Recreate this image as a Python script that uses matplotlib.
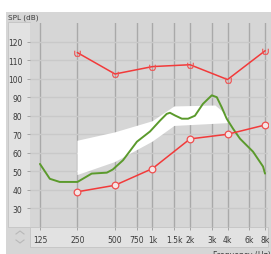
import numpy as np
import matplotlib
matplotlib.use("Agg")
import matplotlib.pyplot as plt
from matplotlib.patches import Rectangle
from matplotlib.path import Path
from matplotlib.lines import Line2D

# data
x_ticks = [125, 250, 500, 750, 1000, 1500, 2000, 3000, 4000, 6000, 8000]
x_labels = ["125", "250", "500", "750", "1k", "1.5k", "2k", "3k", "4k", "6k", "8k"]
y_ticks = [30, 40, 50, 60, 70, 80, 90, 100, 110, 120]

ucl_freq = [250, 500, 1000, 2000, 4000, 8000]
ucl_db = [114, 102.5, 106.5, 107.5, 99.5, 115]

thr_freq = [250, 500, 1000, 2000, 4000, 8000]
thr_db = [39, 42.5, 51.5, 67.5, 70, 75]

gain_freq = [125, 150, 180, 250, 325, 430, 480, 580, 750, 955, 1150, 1300, 1380,
             1520, 1720, 1930, 2190, 2540, 2990, 3280, 3590, 3940, 4430, 5040,
             6410, 7710, 8000]
gain_db = [54, 46, 44.3, 44.3, 48.8, 49.3, 51, 56, 66, 71.5, 77.4, 81, 81.6,
           80.1, 78.4, 78.4, 80, 86.4, 91, 90, 84.6, 78.4, 73, 67.6,
           60.6, 52.6, 48.8]

band_top_freq = [250, 500, 1000, 1500, 3200, 4000]
band_top_db = [66.5, 71, 77, 85, 85.5, 80]
band_bot_freq = [250, 500, 1000, 1500, 4000]
band_bot_db = [48, 55, 66, 74.5, 76]

W, H = 271, 255
fig = plt.figure(figsize=(W / 100, H / 100), dpi=100, facecolor="white")

def px_rect(x0, y0, x1, y1, **kw):
    # rectangle in pixel coords (origin top-left)
    r = Rectangle((x0 / W, 1 - y1 / H), (x1 - x0) / W, (y1 - y0) / H,
                  transform=fig.transFigure, **kw)
    fig.patches.append(r)

px_rect(6, 13, 271, 255, facecolor="#d6d6d6", edgecolor="none", zorder=-3)
px_rect(8, 23, 29.5, 228, facecolor="#e2e2e2", edgecolor="#c4c4c4", lw=0.6, zorder=-2)
px_rect(30, 228, 268, 248, facecolor="#e2e2e2", edgecolor="#c4c4c4", lw=0.6, zorder=-2)

ax = fig.add_axes([30 / W, 1 - 228 / H, 238 / W, 204 / H])
ax.set_zorder(2)
ax.set_facecolor("#d6d6d6")
ax.set_xscale("log", base=2)
ax.set_xlim(104, 8450)
ax.set_ylim(20, 130)

for f in x_ticks:
    ax.axvline(f, color="#a9a9a9", lw=1.0, zorder=1)
for v in y_ticks:
    ax.axhline(v, color="#c9c9c9", lw=1.0, zorder=1)

# white target band
poly_f = band_top_freq + band_bot_freq[::-1]
poly_db = band_top_db + band_bot_db[::-1]
ax.fill(poly_f, poly_db, color="white", lw=0, zorder=2)

ax.plot(gain_freq, gain_db, color="#5b9a2c", lw=1.4, zorder=3,
        solid_capstyle="round", solid_joinstyle="round")

u_marker = Path([(-1, 1), (-1, -0.4), (-0.6, -1), (0.6, -1), (1, -0.4), (1, 1)])
ax.plot(ucl_freq, ucl_db, color="#f23a3a", lw=1.1, zorder=4,
        marker=u_marker, ms=4, mfc="none", mec="#f05050", mew=0.8)
ax.plot(thr_freq, thr_db, color="#f23a3a", lw=1.1, zorder=4,
        marker="o", ms=4.8, mfc="#f5e6e6", mec="#f05050", mew=0.9)

ax.set_xticks(x_ticks)
ax.set_xticklabels(x_labels)
ax.minorticks_off()
ax.set_yticks(y_ticks)
ax.tick_params(axis="both", labelsize=5.5, colors="#9a9a9a", labelcolor="#3a3a3a",
               length=2.5, width=0.6, pad=3)
for s in ax.spines.values():
    s.set_visible(False)

fig.text(8 / W, 1 - 18 / H, "SPL (dB)", fontsize=5.2, color="#3a3a3a", va="center")
fig.text(213 / W, 1 - 251 / H, "Frequency (Hz)", fontsize=5.5, color="#3a3a3a", va="top")

# little spinner arrows
for ys, sign in [(235, -1), (241, 1)]:
    xs = [16 / W, 20 / W, 24 / W]
    yy = [1 - ys / H, 1 - (ys + sign * 3) / H, 1 - ys / H]
    fig.lines.append(Line2D(xs, yy, transform=fig.transFigure, color="#b8b8b8", lw=0.8))

fig.savefig("out.png", dpi=100, facecolor="white")
